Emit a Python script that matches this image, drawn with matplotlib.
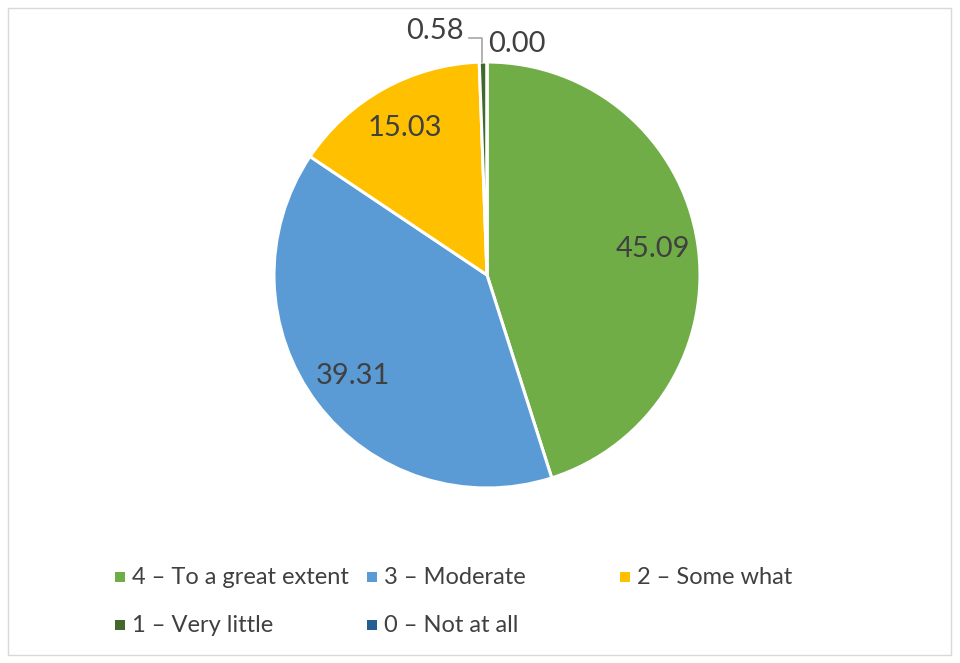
import numpy as np
import matplotlib
matplotlib.use("Agg")
import matplotlib.pyplot as plt
from matplotlib.patches import Rectangle

plt.rcParams['font.family'] = ['Lato', 'DejaVu Sans']

categories = ["4 – To a great extent", "3 – Moderate", "2 – Some what",
              "1 – Very little", "0 – Not at all"]
values = [45.09, 39.31, 15.03, 0.58, 0.00]
value_labels = ["45.09", "39.31", "15.03", "0.58", "0.00"]
colors = ["#70AD47", "#5B9BD5", "#FFC000", "#43682B", "#255E91"]
text_color = "#404040"

W, H = 960, 663
fig = plt.figure(figsize=(W / 100, H / 100), dpi=100)

# outer frame
fig.patches.append(Rectangle((8 / W, 8 / H), (951 - 8) / W, (655 - 8) / H,
                             transform=fig.transFigure, fill=False,
                             edgecolor="#D9D9D9", linewidth=1.0))

cx, cy, r = 487, 275, 213
ax = fig.add_axes([(cx - r) / W, 1 - (cy + r) / H, 2 * r / W, 2 * r / H])
wedges, _ = ax.pie(values, colors=colors, startangle=90, counterclock=False,
                   radius=1.0, wedgeprops=dict(edgecolor="white", linewidth=2.2))
ax.set_xlim(-1, 1)
ax.set_ylim(-1, 1)
ax.set_aspect("equal")
ax.axis("off")

total = sum(values)
start = 90.0
for i, (v, lab) in enumerate(zip(values, value_labels)):
    span = 360.0 * v / total
    mid = np.deg2rad(start - span / 2)
    if v >= 5:
        rr = 0.79
        ax.text(rr * np.cos(mid), rr * np.sin(mid), lab, ha="center", va="center",
                fontsize=21, color=text_color)
    start -= span

# small slices: labels outside with leader
ax.text(-0.245, 1.145, value_labels[3], ha="center", va="center", fontsize=21,
        color=text_color, clip_on=False)
ax.plot([-0.085, -0.025, -0.025], [1.115, 1.115, 1.0], color="#A6A6A6",
        linewidth=1.2, clip_on=False)
ax.text(0.14, 1.085, value_labels[4], ha="center", va="center", fontsize=21,
        color=text_color, clip_on=False)

# legend: three columns, equal width like the original
col_x = [115, 367, 620]
row_y = [577, 625]
layout = [[0, 3], [1, 4], [2]]
for c, idxs in enumerate(layout):
    for rrow, idx in enumerate(idxs):
        x = col_x[c]
        y = row_y[rrow]
        fig.patches.append(Rectangle((x / W, 1 - (y + 5) / H), 10 / W, 10 / H,
                                     transform=fig.transFigure,
                                     facecolor=colors[idx], edgecolor="none"))
        fig.text((x + 17) / W, 1 - y / H, categories[idx], ha="left", va="center",
                 fontsize=17, color=text_color)

fig.savefig("out.png", dpi=100)
